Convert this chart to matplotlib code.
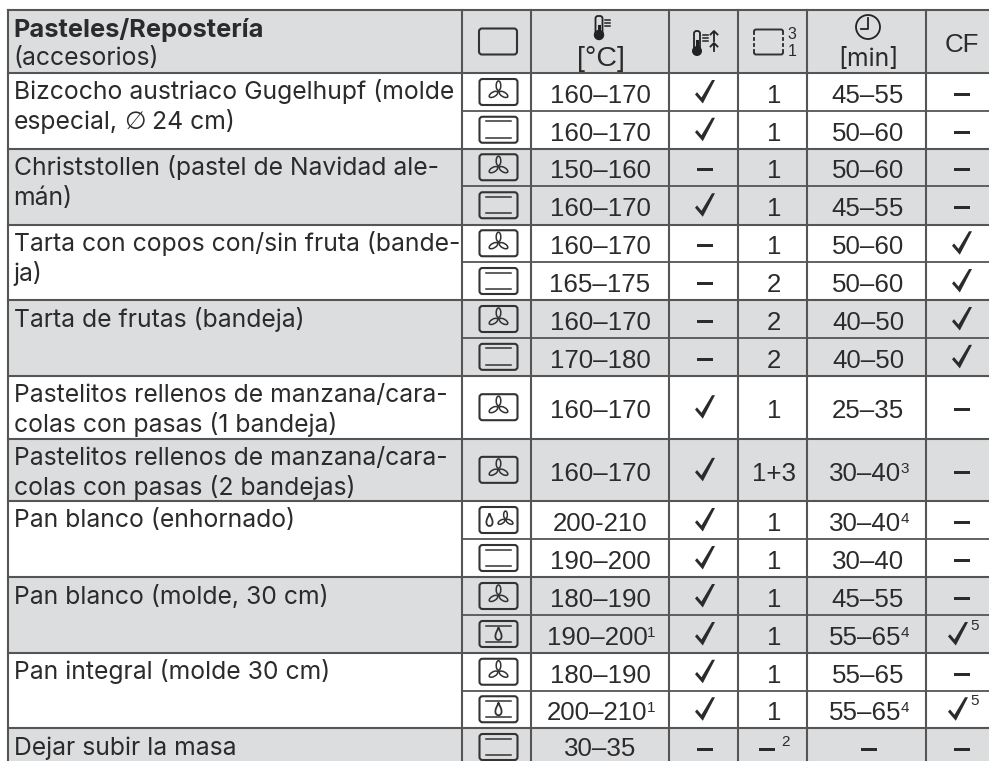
import matplotlib
matplotlib.use('Agg')
import matplotlib.pyplot as plt
from matplotlib.patches import FancyBboxPatch, Rectangle, Circle, Ellipse, Polygon
import numpy as np

FONT = 'Inter'
NUMFONT = 'Liberation Sans'
INK = '#2b2b2b'
GRID = '#555555'
SHADE = '#dcddde'
SIZE = 17.8
NUMSIZE = 18.6
SUP = 11.0

# table data
group_labels = [
    ['Bizcocho austriaco Gugelhupf (molde', 'especial, ∅ 24 cm)'],
    ['Christstollen (pastel de Navidad ale-', 'mán)'],
    ['Tarta con copos con/sin fruta (bande-', 'ja)'],
    ['Tarta de frutas (bandeja)'],
    ['Pastelitos rellenos de manzana/cara-', 'colas con pasas (1 bandeja)'],
    ['Pastelitos rellenos de manzana/cara-', 'colas con pasas (2 bandejas)'],
    ['Pan blanco (enhornado)'],
    ['Pan blanco (molde, 30 cm)'],
    ['Pan integral (molde 30 cm)'],
    ['Dejar subir la masa'],
]
group_rows = [2, 2, 2, 2, 1, 1, 2, 2, 2, 1]
modes = ['fan', 'tb', 'fan', 'tb', 'fan', 'tb', 'fan', 'tb', 'fan', 'fan',
         'steamfan', 'tb', 'fan', 'steamtb', 'fan', 'steamtb', 'tb']
temps = ['160–170', '160–170', '150–160', '160–170', '160–170', '165–175', '160–170', '170–180',
         '160–170', '160–170', '200-210', '190–200', '180–190', '190–200', '180–190', '200–210', '30–35']
temp_sups = ['', '', '', '', '', '', '', '', '', '', '', '', '', '1', '', '1', '']
booster = ['y', 'y', 'n', 'y', 'n', 'n', 'n', 'n', 'y', 'y', 'y', 'y', 'y', 'y', 'y', 'y', 'n']
shelves = ['1', '1', '1', '1', '1', '2', '2', '2', '1', '1+3', '1', '1', '1', '1', '1', '1', '–']
times = ['45–55', '50–60', '50–60', '45–55', '50–60', '50–60', '40–50', '40–50',
         '25–35', '30–40', '30–40', '30–40', '45–55', '55–65', '55–65', '55–65', '–']
time_sups = ['', '', '', '', '', '', '', '', '', '3', '4', '', '', '4', '', '4', '']
cf = ['n', 'n', 'n', 'n', 'y', 'y', 'y', 'y', 'n', 'n', 'n', 'n', 'n', 'y', 'n', 'y', 'n']
cf_sups = ['', '', '', '', '', '', '', '', '', '', '', '', '', '5', '', '5', '']

# layout in pixels
col_x = [8, 462, 531, 669, 738, 807, 926, 989]
row_y = [73, 111, 148.5, 186, 224.5, 262, 300, 338, 375.7, 438.7, 501, 539, 577, 615, 653, 690.5, 728, 766]
header_top = 10

fig = plt.figure(figsize=(9.89, 7.61), dpi=100)
ax = fig.add_axes([0, 0, 1, 1])
ax.set_xlim(0, 989)
ax.set_ylim(761, 0)
ax.axis('off')
rend = fig.canvas.get_renderer()


def label(x, y, s, size=SIZE, ha='left', font=FONT, **kw):
    kw.setdefault('color', INK)
    return ax.text(x, y, s, fontsize=size, ha=ha, va='baseline', family=[font, 'DejaVu Sans'], **kw)


def name_line(x, y, s):
    # Inter's empty-set sign is tiny, so that one glyph comes from DejaVu
    if '∅' not in s:
        label(x, y, s, zorder=4)
        return
    head, tail = s.split('∅')
    t = label(x, y, head.rstrip(), zorder=4)
    x = t.get_window_extent(rend).x1 + 7
    t = label(x, y, '∅', font='DejaVu Sans', zorder=4)
    label(t.get_window_extent(rend).x1 + 6, y, tail.lstrip(), zorder=4)


def number(x, y, s, size=NUMSIZE, ha='center', **kw):
    return label(x, y, s, size=size, ha=ha, font=NUMFONT, zorder=4, **kw)


def value(cx, y, s, sup=''):
    t = number(cx, y, s)
    if sup:
        w = t.get_window_extent(rend).width
        sw = 6
        t.set_x(cx - sw / 2)
        number(cx - sw / 2 + w / 2 - 0.5, y - 8, sup, size=SUP, ha='left')


def check(cx, cy, sup=''):
    # tick outline: thick at the bottom, thin at the top of the long stroke
    xs = np.array([-10, -8, -3.5, 7, 10, -2.2])
    ys = np.array([2.5, 0.2, 5.5, -12, -12, 11.5])
    ax.add_patch(Polygon(np.column_stack([cx + xs, cy + ys]), closed=True, fc=INK, ec='none', zorder=4))
    if sup:
        number(cx + 12, cy - 4, sup, size=SUP, ha='left')


def dash(cx, cy):
    ax.add_patch(Rectangle((cx - 8, cy - 1.7), 16, 3.4, color=INK, lw=0, zorder=4))


def oven_box(cx, cy):
    ax.add_patch(FancyBboxPatch((cx - 17.5, cy - 11.5), 35, 23, boxstyle='round,pad=1.5,rounding_size=3',
                                fc='none', ec='#333333', lw=1.5, zorder=4))


def fan(cx, cy, r=1.0):
    for ang in [90, 210, 330]:
        a = np.deg2rad(ang)
        ax.add_patch(Ellipse((cx + 5.8 * r * np.cos(a), cy - 5.8 * r * np.sin(a)), 9.5 * r, 4.6 * r,
                             angle=-ang, fc='none', ec='#333333', lw=1.1, zorder=4))
    ax.add_patch(Circle((cx, cy), 1.1 * r, fc='#333333', ec='none', zorder=4))


def drop(cx, cy):
    t = np.linspace(0, 2 * np.pi, 40)
    ax.plot(cx + 4.2 * np.sin(t) * np.sin(t / 2) ** 1.2, cy - 6 * np.cos(t), color='#333333', lw=1.3, zorder=4)


def bars(cx, cy):
    ax.plot([cx - 12.5, cx + 12.5], [cy - 8.5, cy - 8.5], color='#333333', lw=1.1, zorder=4)
    ax.plot([cx - 12.5, cx + 12.5], [cy + 8, cy + 8], color='#333333', lw=1.1, zorder=4)


def mode_icon(kind, cx, cy):
    oven_box(cx, cy)
    if kind == 'fan':
        fan(cx, cy - 0.5)
    elif kind == 'tb':
        bars(cx, cy)
    elif kind == 'steamtb':
        bars(cx, cy)
        drop(cx, cy)
    elif kind == 'steamfan':
        drop(cx - 9, cy)
        fan(cx + 7, cy - 0.5, 0.8)


def thermo(cx, top, bulb_y, bulb_r, w):
    ax.add_patch(FancyBboxPatch((cx - w / 2, top), w, bulb_y - top, boxstyle='round,pad=0,rounding_size=2.5',
                                fc='none', ec='#222222', lw=1.3, zorder=4))
    ax.add_patch(Circle((cx, bulb_y), bulb_r, fc='#222222', ec='none', zorder=5))
    ax.plot([cx, cx], [top + 10, bulb_y], color='#222222', lw=2.2, zorder=5)
    for i in range(3):
        ax.plot([cx + w / 2 + 2.5, cx + w / 2 + 7.5], [top + 4 + i * 3.2] * 2, color='#222222', lw=1.1, zorder=4)


# backgrounds
ax.add_patch(Rectangle((col_x[0], header_top), 989 - col_x[0], row_y[0] - header_top, color=SHADE, lw=0))
r = 0
for g, n in enumerate(group_rows):
    y0, y1 = row_y[r], row_y[r + n]
    if g % 2 == 1:
        ax.add_patch(Rectangle((col_x[0], y0), 989 - col_x[0], y1 - y0, color=SHADE, lw=0))
    for i, line in enumerate(group_labels[g]):
        name_line(13.5, y0 + 26.5 + i * 29.5, line)
    # full width line under the group
    ax.plot([col_x[0], 989], [y1, y1], color=GRID, lw=1.5, zorder=3)
    r += n
ax.plot([col_x[0], 989], [header_top, header_top], color=GRID, lw=1.5, zorder=3)
ax.plot([col_x[0], 989], [row_y[0], row_y[0]], color=GRID, lw=1.5, zorder=3)

# inner row lines do not cross the name column
for y in row_y[1:-1]:
    ax.plot([col_x[1], 989], [y, y], color=GRID, lw=1.3, zorder=3)
for x in col_x[:-1]:
    ax.plot([x, x], [header_top, 761], color=GRID, lw=1.5, zorder=3)

# header
label(13.5, 37, 'Pasteles/Repostería', size=18.3, weight='bold')
label(13.5, 65, '(accesorios)')
ax.add_patch(FancyBboxPatch((480.5, 30), 35, 23, boxstyle='round,pad=1.5,rounding_size=3',
                            fc='none', ec='#333333', lw=1.5, zorder=4))
thermo(599, 16, 35, 5.2, 7)
number(601, 66, '[°C]', size=20.5)
thermo(697, 31, 51, 5, 6)
for yy0, yy1 in [(41, 31), (51, 43)]:
    ax.plot([714, 714], [yy0, yy1 + 1], color='#222222', lw=1.3, zorder=4)
    ax.plot([710.5, 714, 717.5], [yy1 + 3.5, yy1, yy1 + 3.5], color='#222222', lw=1.3, zorder=4)
# shelf icon with its side runners
ax.add_patch(FancyBboxPatch((754, 29.5), 29, 25, boxstyle='round,pad=0,rounding_size=2',
                            fc='none', ec='#333333', lw=1.4, zorder=4))
for yy in [36, 42, 48]:
    ax.plot([752.5, 755.5], [yy, yy], color=SHADE, lw=1.6, zorder=5)
    ax.plot([781.5, 784.5], [yy, yy], color=SHADE, lw=1.6, zorder=5)
number(792, 39, '3', size=SUP + 0.5)
number(792, 56, '1', size=SUP + 0.5)
ax.add_patch(Circle((868, 27), 12, fc='none', ec='#222222', lw=1.3, zorder=4))
ax.plot([868, 868, 861], [18, 28.5, 28.5], color='#222222', lw=1.3, zorder=4)
label(868, 66, '[min]', ha='center', zorder=4)
number(962, 52, 'CF')

# body
for i in range(len(modes)):
    y0, y1 = row_y[i], row_y[i + 1]
    cy = (y0 + y1) / 2
    base = min(cy + 11, 755.5)  # last row is cropped by the page edge
    mode_icon(modes[i], 498.5, cy)
    value(600, base, temps[i], temp_sups[i])
    if booster[i] == 'y':
        check(705, cy)
    else:
        dash(705, cy + 2.5)
    if shelves[i] == '–':
        dash(767, cy + 2.5)
        number(786, cy - 1.5, '2', size=SUP)
    else:
        value(774, base, shelves[i])
    if times[i] == '–':
        dash(869, cy + 2.5)
    else:
        value(868, base, times[i], time_sups[i])
    if cf[i] == 'y':
        check(962 if not cf_sups[i] else 958, cy, cf_sups[i])
    else:
        dash(962, cy + 2.5)

fig.savefig('out.png', dpi=100)
